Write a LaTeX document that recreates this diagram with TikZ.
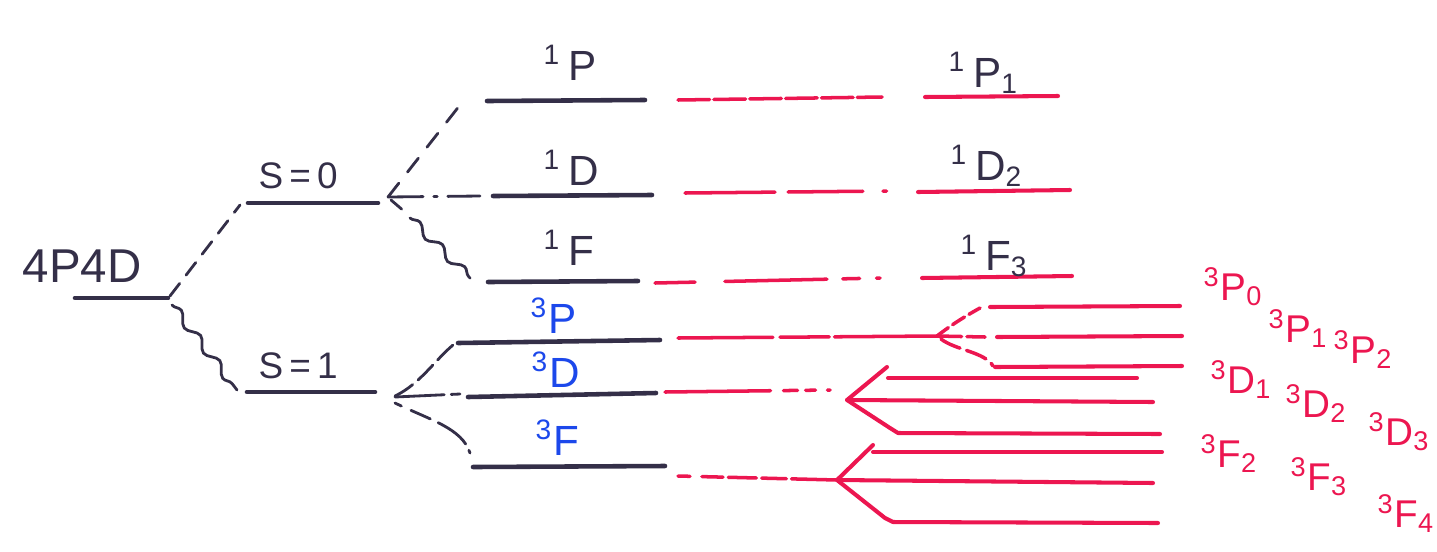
\documentclass[tikz,border=0pt]{standalone}
\usepackage{fontspec}
\setmainfont{Liberation Sans}
\usetikzlibrary{decorations.pathmorphing,calc}
\definecolor{ink}{RGB}{52,47,72}
\definecolor{redink}{RGB}{236,22,80}
\definecolor{blueink}{RGB}{28,72,235}

\begin{document}
\begin{tikzpicture}[x=0.01cm,y=-0.01cm,
  level/.style={ink,line width=1.3pt,line cap=round},
  sublevel/.style={redink,line width=1.15pt,line cap=round,line join=round},
  link/.style={ink,line width=0.8pt,line cap=round,dash pattern=on 4.5pt off 3pt},
  wavy/.style={ink,line width=0.8pt,line cap=round,decorate,
    decoration={snake,amplitude=1.2pt,segment length=9pt}},
  redlink/.style={redink,line width=1pt,line cap=round},
  lbl/.style={inner sep=0pt,anchor=base west,font=\fontsize{12}{14}\selectfont},
  sublbl/.style={lbl,font=\fontsize{11}{13}\selectfont},
  inklbl/.style={lbl,text=ink},
  bluelbl/.style={lbl,text=blueink},
  redlbl/.style={sublbl,text=redink}]

\useasboundingbox (0,0) rectangle (1437,551);

% ---------- level end points ----------
\coordinate (cfgL) at (75,298);   \coordinate (cfgR) at (168,298);
\coordinate (s0L) at (248,203);   \coordinate (s0R) at (378,203);
\coordinate (s1L) at (247,392);   \coordinate (s1R) at (375,392);
\coordinate (pSL) at (487,101);   \coordinate (pSR) at (645,100);
\coordinate (dSL) at (493,196);   \coordinate (dSR) at (652,195);
\coordinate (fSL) at (488,282);   \coordinate (fSR) at (638,281);
\coordinate (pTL) at (458,343);   \coordinate (pTR) at (660,340);
\coordinate (dTL) at (468,397);   \coordinate (dTR) at (656,393);
\coordinate (fTL) at (473,467);   \coordinate (fTR) at (665,466);
% branch points
\coordinate (s0o) at (388,197);
\coordinate (s1o) at (395,396);
\coordinate (pTo) at (937,336);
\coordinate (dTo) at (847,400);
\coordinate (fTo) at (837,480);
% J levels
\coordinate (p1L) at (925,97);    \coordinate (p1R) at (1058,96);
\coordinate (d2L) at (918,192);   \coordinate (d2R) at (1070,190);
\coordinate (f3L) at (922,278);   \coordinate (f3R) at (1072,276);
\coordinate (tp0L) at (990,307);  \coordinate (tp0R) at (1180,306);
\coordinate (tp1L) at (997,337);  \coordinate (tp1R) at (1182,336);
\coordinate (tp2L) at (995,367);  \coordinate (tp2R) at (1182,366);
\coordinate (td1T) at (887,367);
\coordinate (td1L) at (888,378);  \coordinate (td1R) at (1137,378);
\coordinate (td2R) at (1153,402);
\coordinate (td3L) at (898,433);  \coordinate (td3R) at (1160,434);
\coordinate (tf2T) at (873,445);
\coordinate (tf2L) at (873,452);  \coordinate (tf2R) at (1162,452);
\coordinate (tf3R) at (1153,483);
\coordinate (tf4L) at (893,522);  \coordinate (tf4R) at (1158,523);

% ---------- black levels ----------
\foreach \a/\b in {cfgL/cfgR,s0L/s0R,s1L/s1R,pSL/pSR,dSL/dSR,fSL/fSR,pTL/pTR,dTL/dTR,fTL/fTR}
  \draw[level] (\a) -- (\b);

% ---------- black labels ----------
\node[inklbl,font=\fontsize{13.5}{16}\selectfont] (lcfg) at (22,282) {4P4D};
\node[inklbl,font=\fontsize{10.5}{12}\selectfont] (ls0) at (258,188) {S\,=\,0};
\node[inklbl,font=\fontsize{10.5}{12}\selectfont] (ls1) at (258,378) {S\,=\,1};
\node[inklbl] (lpS) at (543,80)  {\textsuperscript{1}\,P};
\node[inklbl] (ldS) at (543,185) {\textsuperscript{1}\,D};
\node[inklbl] (lfS) at (543,265) {\textsuperscript{1}\,F};
\node[bluelbl] (lpT) at (530,333) {\textsuperscript{3}P};
\node[bluelbl] (ldT) at (531,387) {\textsuperscript{3}D};
\node[bluelbl] (lfT) at (535,455) {\textsuperscript{3}F};

% ---------- spin splitting ----------
\draw[link] ($(cfgR)+(2,-2)$) -- ($(s0L)+(-8,2)$);
\draw[wavy] ($(cfgR)+(4,7)$) -- ($(s1L)+(-10,-2)$);
\draw[link,dash pattern=on 5pt off 4pt] (s0o) -- ($(pSL)+(-27,4)$);
\draw[link,dash pattern=on 10pt off 3pt on 1pt off 3pt] (s0o) -- ($(dSL)+(-13,0)$);
\draw[link,dash pattern=on 4pt off 2pt] ($(s0o)+(3,3)$) -- (405,212);
\draw[wavy] (410,218) -- ($(fSL)+(-18,-4)$);

% ---------- orbital splitting of S=1 ----------
\draw[link,dash pattern=on 6pt off 2pt] (s1o) .. controls (420,384) and (435,360) .. ($(pTL)+(-5,2)$);
\draw[link,dash pattern=on 14pt off 2pt] ($(s1o)+(0,1)$) -- ($(dTL)+(-8,-3)$);
\draw[link,dash pattern=on 2pt off 3pt on 6pt off 2.5pt on 10pt off 2pt] ($(s1o)+(0,7)$) .. controls (430,420) and (462,428) .. ($(fTL)+(-3,-14)$);

% ---------- red continuations ----------
\draw[redlink,dash pattern=on 9pt off 1.2pt] (678,100) -- (882,97);
\draw[redlink,dash pattern=on 25.6pt off 3.7pt on 21.3pt off 5.7pt on 1pt] (685,193) -- (888,191);
\draw[redlink,dash pattern=on 11.4pt off 8.5pt on 29pt off 4.5pt on 4.8pt off 4.8pt on 1pt] (655,283) -- (880,278);
\draw[redlink,dash pattern=on 27pt off 2pt on 14pt off 1.5pt on 30pt] (678,338) -- (pTo);
\draw[redlink,dash pattern=on 30pt off 3.7pt on 4pt off 2.3pt on 2.8pt off 3.4pt on 1pt] (665,392) -- (830,390);
\draw[redlink,dash pattern=on 3.4pt off 3.4pt on 6pt off 1.5pt on 8pt off 1.5pt on 7pt off 1.5pt on 40pt] (678,476) -- (fTo);

% ---------- J levels ----------
\foreach \a/\b in {p1L/p1R,d2L/d2R,f3L/f3R,tp0L/tp0R,tp1L/tp1R,tp2L/tp2R,td1L/td1R,tf2L/tf2R}
  \draw[sublevel] (\a) -- (\b);
\draw[sublevel] (td1T) -- (dTo) -- (td2R);
\draw[sublevel] (dTo) -- (890,428) -- (td3L) -- (td3R);
\draw[sublevel] (tf2T) -- (fTo) -- (tf3R);
\draw[sublevel] (fTo) -- (885,518) -- (tf4L) -- (tf4R);

% 3P fine structure links
\draw[redlink,dash pattern=on 4pt off 1.5pt] (pTo) .. controls (950,326) and (962,318) .. ($(tp0L)+(-10,1)$);
\draw[redlink,dash pattern=on 7pt off 1.5pt] (pTo) -- ($(tp1L)+(-12,0)$);
\draw[redlink,dash pattern=on 6pt off 2pt] ($(pTo)+(4,3)$) .. controls (955,350) and (985,352) .. ($(tp2L)+(-2,-1)$);

% ---------- J labels ----------
\node[inklbl] (lp1) at (948,87)  {\textsuperscript{1}\,P\textsubscript{1}};
\node[inklbl] (ld2) at (950,180) {\textsuperscript{1}\,D\textsubscript{2}};
\node[inklbl] (lf3) at (960,270) {\textsuperscript{1}\,F\textsubscript{3}};
\node[redlbl] (ltp0) at (1203,300) {\textsuperscript{3}P\textsubscript{0}};
\node[redlbl] (ltp1) at (1268,342) {\textsuperscript{3}P\textsubscript{1}};
\node[redlbl] (ltp2) at (1333,363) {\textsuperscript{3}P\textsubscript{2}};
\node[redlbl] (ltd1) at (1210,393) {\textsuperscript{3}D\textsubscript{1}};
\node[redlbl] (ltd2) at (1285,417) {\textsuperscript{3}D\textsubscript{2}};
\node[redlbl] (ltd3) at (1368,445) {\textsuperscript{3}D\textsubscript{3}};
\node[redlbl] (ltf2) at (1200,467) {\textsuperscript{3}F\textsubscript{2}};
\node[redlbl] (ltf3) at (1290,490) {\textsuperscript{3}F\textsubscript{3}};
\node[redlbl] (ltf4) at (1377,527) {\textsuperscript{3}F\textsubscript{4}};
\end{tikzpicture}
\end{document}
